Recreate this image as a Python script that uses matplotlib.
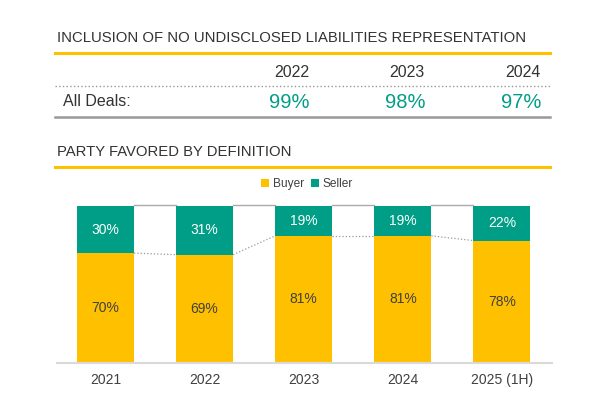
import matplotlib
matplotlib.use('Agg')
import matplotlib.pyplot as plt

plt.rcParams['font.family'] = ['Liberation Sans', 'DejaVu Sans']

# data
table_years = ['2022', '2023', '2024']
table_values = ['99%', '98%', '97%']
years = ['2021', '2022', '2023', '2024', '2025 (1H)']
buyer = [70, 69, 81, 81, 78]
seller = [30, 31, 19, 19, 22]

gold = '#FFC000'
teal = '#009E87'
W, H = 600, 412

fig = plt.figure(figsize=(W / 100, H / 100), dpi=100)


def fx(x):
    return x / W


def fy(y):
    return 1 - y / H


def hline(y, x0, x1, color, lw, ls='-'):
    fig.add_artist(plt.Line2D([fx(x0), fx(x1)], [fy(y), fy(y)], color=color, lw=lw, ls=ls))


# top table
fig.text(fx(57), fy(38), 'INCLUSION OF NO UNDISCLOSED LIABILITIES REPRESENTATION',
         fontsize=10.7, color='#333333', va='center', ha='left')
hline(52.5, 55, 550, gold, 2.2)
for i, yr in enumerate(table_years):
    xr = [309, 425, 541][i]
    fig.text(fx(xr), fy(72.5), yr, fontsize=11.5, color='#333333', ha='right', va='center')
    fig.text(fx(xr), fy(102), table_values[i], fontsize=14.5, color=teal, ha='right', va='center')
hline(85.5, 55, 550, '#999999', 1.0, ':')
fig.text(fx(63), fy(102), 'All Deals:', fontsize=11.5, color='#333333', ha='left', va='center')
hline(117, 55, 550, '#999999', 1.8)

# second section
fig.text(fx(57), fy(152), 'PARTY FAVORED BY DEFINITION',
         fontsize=10.7, color='#333333', va='center', ha='left')
hline(167, 55, 550, gold, 2.2)

# bar chart axes
ax = fig.add_axes([fx(57), fy(363), fx(552) - fx(57), fy(206) - fy(363)])
x = list(range(len(years)))
bw = 0.575
ax.bar(x, buyer, width=bw, color=gold, label='Buyer', zorder=2)
ax.bar(x, seller, width=bw, bottom=buyer, color=teal, label='Seller', zorder=2)

for i in x:
    ax.text(i, buyer[i] / 2, '%d%%' % buyer[i], ha='center', va='center',
            fontsize=10, color='#404040')
    ax.text(i, buyer[i] + seller[i] / 2, '%d%%' % seller[i], ha='center', va='center',
            fontsize=10, color='white')

# connector lines between bars
for i in range(len(years) - 1):
    ax.plot([i + bw / 2, i + 1 - bw / 2], [buyer[i], buyer[i + 1]],
            color='#999999', lw=0.9, ls=':', zorder=1)
    ax.plot([i + bw / 2, i + 1 - bw / 2], [100.6, 100.6],
            color='#aaaaaa', lw=1.0, zorder=1, clip_on=False)

ax.set_xlim((57 - 105.5) / 99.1, (552 - 105.5) / 99.1)
ax.set_ylim(0, 100)
ax.set_xticks(x)
ax.set_xticklabels(years, fontsize=10, color='#404040')
ax.tick_params(axis='x', length=0, pad=7)
ax.set_yticks([])
for s in ['top', 'left', 'right']:
    ax.spines[s].set_visible(False)
ax.spines['bottom'].set_color('#d9d9d9')
ax.spines['bottom'].set_linewidth(1.5)

fig.legend(loc='center', bbox_to_anchor=(fx(307), fy(184)), ncol=2, frameon=False,
           fontsize=8.6, handlelength=0.7, handleheight=0.7, handletextpad=0.3,
           columnspacing=0.6, labelcolor='#404040')

plt.savefig('out.png', dpi=100)
